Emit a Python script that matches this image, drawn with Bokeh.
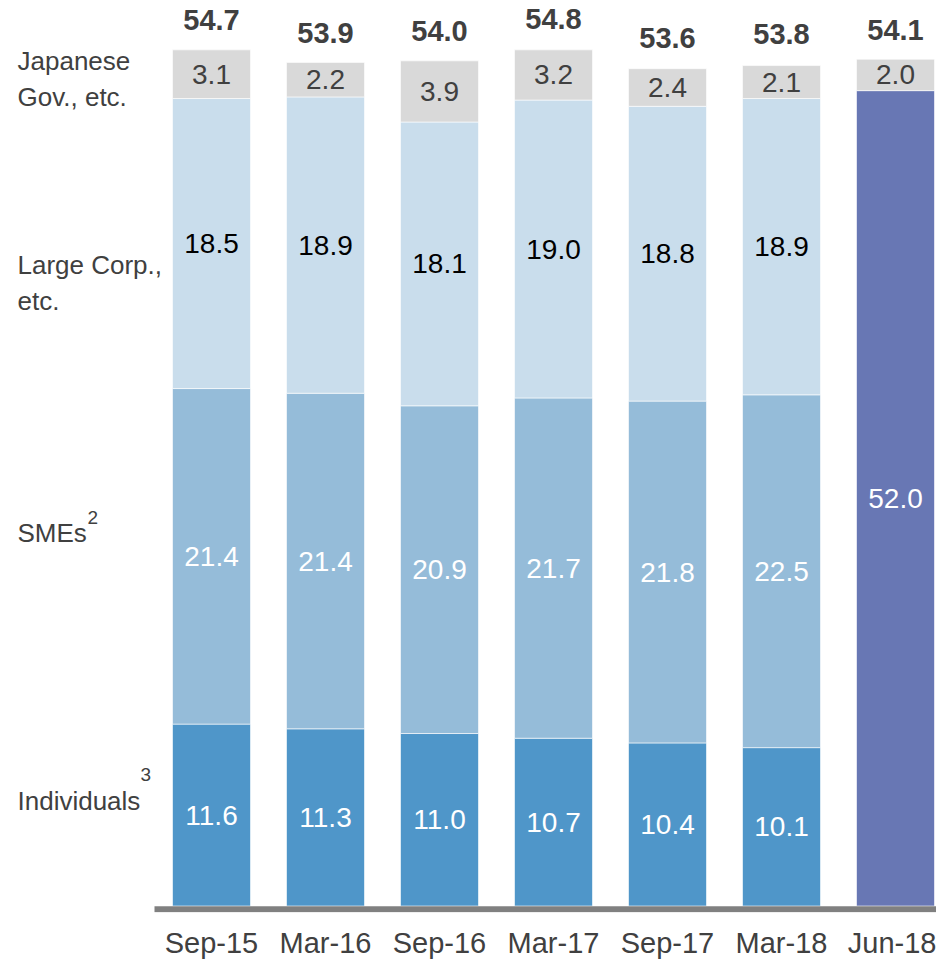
from bokeh.plotting import figure
from bokeh.models import ColumnDataSource, Range1d, FixedTicker
from bokeh.core.properties import value
from bokeh.embed import file_html
from bokeh.resources import INLINE

# ---- data ----
categories = ["Sep-15", "Mar-16", "Sep-16", "Mar-17", "Sep-17", "Mar-18", "Jun-18"]
individuals = [11.6, 11.3, 11.0, 10.7, 10.4, 10.1]
smes = [21.4, 21.4, 20.9, 21.7, 21.8, 22.5]
large_corp = [18.5, 18.9, 18.1, 19.0, 18.8, 18.9]
jun18_private = [52.0]
jp_gov = [3.1, 2.2, 3.9, 3.2, 2.4, 2.1, 2.0]
totals = [54.7, 53.9, 54.0, 54.8, 53.6, 53.8, 54.1]
series_names = ["Japanese\nGov., etc.", "Large Corp.,\netc.", "SMEs", "Individuals"]

FONT = "Liberation Sans"
C_IND = "#4F96C9"
C_SME = "#95BCD9"
C_LC = "#C9DDEC"
C_GOV = "#D9D9D9"
C_JUN = "#6877B4"
C_TXT = "#404040"

# ---- geometry (pixel to data) ----
FW, FH = 936, 912
STEP = 114.0          # px per category
X0_PX = 211.0         # px of first category center in frame
PX_PER_UNIT = 15.68   # px per y unit
ZERO_PX = 6.5         # px of y=0 above frame bottom
x_start = -X0_PX / STEP
x_end = (FW - X0_PX) / STEP
y_start = -ZERO_PX / PX_PER_UNIT
y_end = (FH - ZERO_PX) / PX_PER_UNIT

def px2x(px):  # picture px -> data x
    return x_start + px / STEP

def py2y(py):  # picture px -> data y
    return (FH - ZERO_PX - py) / PX_PER_UNIT

p = figure(frame_width=FW, frame_height=FH, output_backend="svg", toolbar_location=None,
           x_range=Range1d(x_start, x_end), y_range=Range1d(y_start, y_end),
           y_axis_location=None, min_border=0, min_border_left=0, min_border_right=0,
           min_border_top=0, outline_line_color=None)
p.grid.visible = False
p.background_fill_color = "white"

n = len(categories)
xs = list(range(n))
BW = 78 / STEP

# stacked segments for first six
k = len(individuals)
b0 = [0.0] * k
t0 = individuals
b1 = t0
t1 = [a + b for a, b in zip(t0, smes)]
b2 = t1
t2 = [a + b for a, b in zip(t1, large_corp)]
gov_bottom = t2 + jun18_private
gov_top = [a + b for a, b in zip(gov_bottom, jp_gov)]

seg_line = dict(line_color="white", line_alpha=0.6, line_width=1)
p.vbar(x=xs[:k], bottom=b0, top=t0, width=BW, fill_color=C_IND, **seg_line)
p.vbar(x=xs[:k], bottom=b1, top=t1, width=BW, fill_color=C_SME, **seg_line)
p.vbar(x=xs[:k], bottom=b2, top=t2, width=BW, fill_color=C_LC, **seg_line)
p.vbar(x=xs[k:], bottom=[0.0] * len(jun18_private), top=jun18_private, width=BW, fill_color=C_JUN, **seg_line)
p.vbar(x=xs, bottom=gov_bottom, top=gov_top, width=BW, fill_color=C_GOV, **seg_line)

# axis baseline
p.segment(x0=[-0.5], y0=[y_start / 2], x1=[x_end], y1=[y_start / 2], line_color="#808080", line_width=6)

def seg_labels(x, bottom, vals, color):
    src = ColumnDataSource(dict(x=x, y=[b + v / 2 for b, v in zip(bottom, vals)],
                                t=[f"{v:.1f}" for v in vals]))
    p.text(x="x", y="y", text="t", source=src, text_align="center", text_baseline="middle",
           text_font=value(FONT), text_font_size="28px", text_color=color)

seg_labels(xs[:k], b0, individuals, "white")
seg_labels(xs[:k], b1, smes, "white")
seg_labels(xs[:k], b2, large_corp, "black")
seg_labels(xs[k:], [0.0], jun18_private, "white")
seg_labels(xs, gov_bottom, jp_gov, C_TXT)

# totals
tsrc = ColumnDataSource(dict(x=xs, y=totals, t=[f"{v:.1f}" for v in totals]))
p.text(x="x", y="y", text="t", source=tsrc, text_align="center", text_baseline="middle",
       y_offset=-28, text_font=value(FONT), text_font_size="29px", text_font_style="bold",
       text_color=C_TXT)

# series labels on left
lab_y_px = [78, 282, 532, 800]
lsrc = ColumnDataSource(dict(x=[px2x(17)] * 4, y=[py2y(v) for v in lab_y_px], t=series_names))
p.text(x="x", y="y", text="t", source=lsrc, text_align="left", text_baseline="middle",
       text_font=value(FONT), text_font_size="26px", text_color=C_TXT, text_line_height=1.2)
ssrc = ColumnDataSource(dict(x=[px2x(87), px2x(140)], y=[py2y(517), py2y(774)], t=["2", "3"]))
p.text(x="x", y="y", text="t", source=ssrc, text_align="left", text_baseline="middle",
       text_font=value(FONT), text_font_size="19px", text_color=C_TXT)

# x axis
ax = p.xaxis[0]
ax.ticker = FixedTicker(ticks=xs)
ax.major_label_overrides = {i: c for i, c in enumerate(categories)}
ax.axis_line_color = None
ax.major_tick_line_color = None
ax.minor_tick_line_color = None
ax.major_tick_out = 0
ax.major_tick_in = 0
ax.major_label_standoff = 14
ax.major_label_text_font = FONT
ax.major_label_text_font_size = "29px"
ax.major_label_text_color = C_TXT

open("out.html", "w").write(file_html(p, INLINE))
